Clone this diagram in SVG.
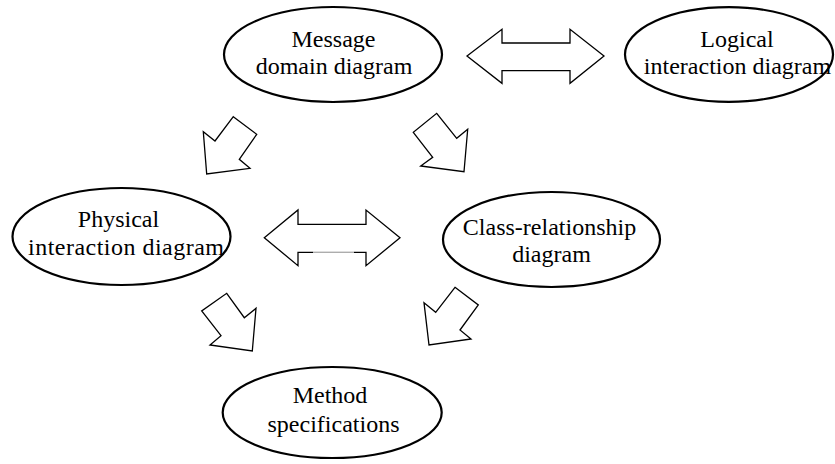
<svg xmlns="http://www.w3.org/2000/svg" width="835" height="464" viewBox="0 0 835 464">
<style>
.node ellipse{fill:#fff;stroke:#000;stroke-width:2.2}
.node text{font-family:"Liberation Serif","Times New Roman",serif;font-size:24px;fill:#000;text-anchor:middle}
.arr{fill:#fff;stroke:#000;stroke-width:1.3;stroke-linejoin:miter}
</style>
<rect width="835" height="464" fill="#fff"/>
<g id="connectors">
<polygon class="arr" points="467,56 502,29.3 502,43 570,43 570,29.3 604,56 570,83.3 570,70.7 502,70.7 502,83.3"/>
<polygon class="arr" points="264.3,237.7 298,210 298,224.3 366,224.3 366,210 400,237.7 366,265.7 366,252.3 298,252.3 298,265.7"/>
<line x1="313" y1="252.3" x2="354" y2="252.3" stroke="#fff" stroke-width="2"/>
<line x1="313" y1="252.3" x2="354" y2="252.3" stroke="#999" stroke-width="1"/>
<polygon class="arr" points="233.3,116.7 256.7,134.3 239.3,159.3 250,168.3 206.7,174 203.3,131.7 215,141"/>
<polygon class="arr" points="436.7,113.3 456.7,138.3 467.7,129.3 464,171.7 420.7,166 432.7,157.3 413.3,132.3"/>
<polygon class="arr" points="226.7,293.3 244.3,317.7 256,308.3 252.3,351 210,345 221,335.7 201.7,311"/>
<polygon class="arr" points="455,287.3 478.3,305 460,330 471,339 429,345 424,302.7 435.7,312.3"/>
</g>
<g id="message" class="node">
<ellipse cx="333" cy="54.5" rx="109" ry="47.5"/>
<text x="333.5" y="47">Message</text>
<text x="334" y="73.5">domain diagram</text>
</g>
<g id="logical" class="node">
<ellipse cx="729" cy="54.5" rx="104" ry="47.3"/>
<text x="737" y="47">Logical</text>
<text x="737.5" y="74">interaction diagram</text>
</g>
<g id="physical" class="node">
<ellipse cx="121.5" cy="236.5" rx="109" ry="48.5"/>
<text x="118.5" y="227">Physical</text>
<text x="126" y="254.5" textLength="196" lengthAdjust="spacing">interaction diagram</text>
</g>
<g id="class" class="node">
<ellipse cx="551.5" cy="239.5" rx="108.5" ry="47.5"/>
<text x="549.5" y="235">Class-relationship</text>
<text x="551.5" y="262">diagram</text>
</g>
<g id="method" class="node">
<ellipse cx="332.2" cy="412.5" rx="109.5" ry="45.5"/>
<text x="330" y="403.3">Method</text>
<text x="333.5" y="431.7">specifications</text>
</g>
</svg>
